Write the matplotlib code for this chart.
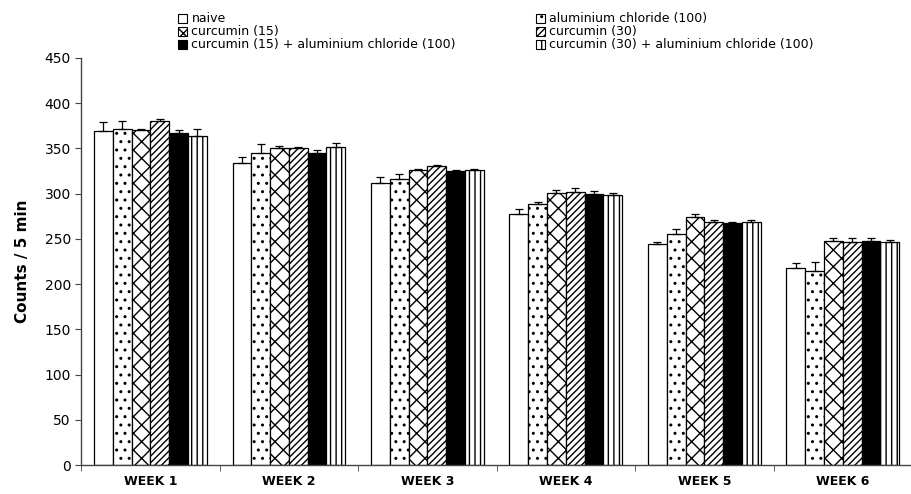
import numpy as np
import matplotlib
matplotlib.use('Agg')
import matplotlib.pyplot as plt
from matplotlib.patches import Patch

plt.rcParams['font.family'] = ['DejaVu Sans']
plt.rcParams['hatch.linewidth'] = 1.0

# Data
weeks = ['WEEK 1', 'WEEK 2', 'WEEK 3', 'WEEK 4', 'WEEK 5', 'WEEK 6']
groups = ['naive', 'aluminium chloride (100)', 'curcumin (15)', 'curcumin (30)',
          'curcumin (15) + aluminium chloride (100)',
          'curcumin (30) + aluminium chloride (100)']

naive = [369, 334, 312, 278, 244, 218]
alcl = [371, 345, 316, 288, 255, 215]
cur15 = [370, 350, 326, 301, 274, 248]
cur30 = [380, 350, 330, 302, 269, 247]
cur15_al = [367, 345, 325, 300, 267, 248]
cur30_al = [364, 352, 326, 298, 269, 246]

naive_err = [10, 7, 6, 5, 2.5, 5]
alcl_err = [9, 10, 6, 3, 5.5, 9]
cur15_err = [1.5, 3, 1, 3, 4, 3.5]
cur30_err = [3, 2, 1.5, 4, 2, 3.5]
cur15_al_err = [3.5, 3, 1, 3, 2, 3.5]
cur30_al_err = [8, 4, 1, 3, 2, 3]

series = [naive, alcl, cur15, cur30, cur15_al, cur30_al]
errors = [naive_err, alcl_err, cur15_err, cur30_err, cur15_al_err, cur30_al_err]
fills = ['white', 'white', 'white', 'white', 'black', 'white']
hatches = ['', '..', 'xx', '/////', '', '|||']

fig = plt.figure(figsize=(9.12, 4.94), dpi=100)
ax = fig.add_axes([0.089, 0.0587, 0.911, 0.824])

x = np.arange(len(weeks))
width = 0.1357
handles = []
for i, (vals, errs) in enumerate(zip(series, errors)):
    pos = x + (i - 2.5) * width
    ax.bar(pos, vals, width, color=fills[i], edgecolor='black', linewidth=0.9,
           hatch=hatches[i], zorder=2)
    ax.errorbar(pos, vals, yerr=[np.zeros(len(errs)), errs], fmt='none',
                ecolor='black', elinewidth=0.9, capsize=2.7, capthick=0.9, zorder=3)
    handles.append(Patch(facecolor=fills[i], edgecolor='black', hatch=hatches[i],
                         linewidth=0.8, label=groups[i]))

ax.set_ylim(0, 450)
ax.set_yticks(range(0, 451, 50))
ax.set_xlim(-0.5, 5.436)
ax.set_xticks(x)
ax.set_xticklabels(weeks, fontweight='bold', fontsize=9)
ax.set_xticks(np.arange(-0.5, 5.6, 1), minor=True)
ax.tick_params(axis='x', which='major', length=0, pad=7)
ax.tick_params(axis='x', which='minor', length=4, direction='out', color='#444444')
ax.tick_params(axis='y', length=4, direction='out', labelsize=10, color='#444444')
ax.set_ylabel('Counts / 5 min', fontweight='bold', fontsize=11, labelpad=10)

for s in ['top', 'right']:
    ax.spines[s].set_visible(False)
for s in ['left', 'bottom']:
    ax.spines[s].set_color('#444444')
    ax.spines[s].set_linewidth(1.0)

# legend, column-first order
order = [0, 2, 4, 1, 3, 5]
fig.legend([handles[k] for k in order], [groups[k] for k in order],
           ncol=2, loc='upper left', bbox_to_anchor=(0.187, 0.99),
           frameon=False, fontsize=9, handlelength=0.72, handleheight=0.72,
           handletextpad=0.35, labelspacing=0.0, columnspacing=6.4,
           borderaxespad=0.2)

fig.savefig('out.png', dpi=100)
